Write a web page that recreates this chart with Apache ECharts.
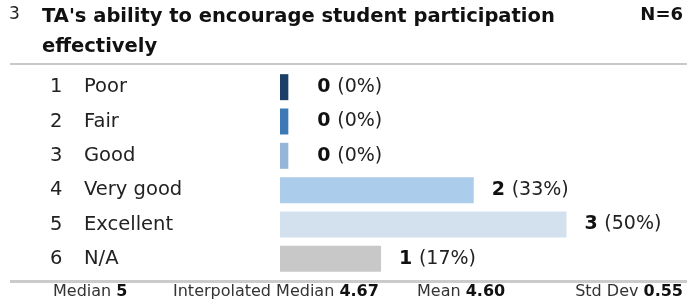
<!DOCTYPE HTML>
<html>
<head>
    <meta charset="utf-8">
    <title>TA participation</title>
    <script type="text/javascript" src="https://cdn.jsdelivr.net/npm/echarts@6/dist/echarts.min.js"></script>
</head>
<body style="padding:0px;margin:0px;background:#fff;">
    <div id="main" style="width:687px;height:304px;padding:0px;margin:0px;"></div>
    <script type="text/javascript">
        // data
        var codes = ['1', '2', '3', '4', '5', '6'];
        var answers = ['Poor', 'Fair', 'Good', 'Very good', 'Excellent', 'N/A'];
        var counts = [0, 0, 0, 2, 3, 1];
        var percents = ['0%', '0%', '0%', '33%', '50%', '17%'];
        var barColors = ['#1b3f69', '#3d79b5', '#94b7d9', '#abcdeb', '#d3e1ef', '#c8c8c8'];
        var stats = [['Median', '5'], ['Interpolated Median', '4.67'], ['Mean', '4.60'], ['Std Dev', '0.55']];

        var FONT = 'DejaVu Sans';
        var myChart = echarts.init(document.getElementById('main'));

        var barData = counts.map(function (v, i) {
            return {
                value: v,
                itemStyle: { color: barColors[i] },
                label: { distance: v === 0 ? 29 : 18 }
            };
        });

        // header, separators, footer
        var graphics = [
            { type: 'text', left: 9, top: 6, style: { text: '3', font: '17px ' + FONT, fill: '#222' } },
            { type: 'text', left: 42, top: 2, style: { text: "TA's ability to encourage student participation\neffectively", font: 'bold 19.5px ' + FONT, fill: '#111', lineHeight: 30 } },
            { type: 'text', right: 4, top: 6, style: { text: 'N=6', font: 'bold 18px ' + FONT, fill: '#111' } },
            { type: 'rect', shape: { x: 10, y: 63, width: 677, height: 2 }, style: { fill: '#c8c8c8' } },
            { type: 'rect', shape: { x: 10, y: 280, width: 677, height: 3 }, style: { fill: '#cbcbcb' } }
        ];
        var statPos = [{ left: 53 }, { left: 173 }, { left: 417 }, { right: 4 }];
        stats.forEach(function (s, i) {
            var g = {
                type: 'text', top: 284,
                style: {
                    text: '{n|' + s[0] + ' }{b|' + s[1] + '}',
                    rich: {
                        n: { font: '16px ' + FONT, fill: '#333' },
                        b: { font: 'bold 16px ' + FONT, fill: '#111' }
                    }
                }
            };
            echarts.util.extend(g, statPos[i]);
            graphics.push(g);
        });

        option = {
            animation: false,
            backgroundColor: '#fff',
            grid: { left: 280, top: 70, width: 410, height: 206 },
            xAxis: {
                type: 'value', min: -0.09, max: 4.3, startValue: -0.09,
                show: false
            },
            yAxis: {
                type: 'category', inverse: true,
                data: answers,
                axisLine: { show: false }, axisTick: { show: false },
                axisLabel: {
                    align: 'left', margin: 230,
                    formatter: function (val, idx) {
                        return '{n|' + codes[idx] + '}{l|' + val + '}';
                    },
                    rich: {
                        n: { width: 34, fontFamily: FONT, fontSize: 19.5, color: '#222' },
                        l: { fontFamily: FONT, fontSize: 19.5, color: '#222' }
                    }
                }
            },
            series: [{
                type: 'bar',
                barWidth: 26,
                data: barData,
                label: {
                    show: true, position: 'right',
                    formatter: function (p) {
                        return '{b|' + counts[p.dataIndex] + '}  {n|(' + percents[p.dataIndex] + ')}';
                    },
                    rich: {
                        b: { fontFamily: FONT, fontWeight: 'bold', fontSize: 19, color: '#111' },
                        n: { fontFamily: FONT, fontSize: 19, color: '#222' }
                    }
                }
            }],
            graphic: graphics
        };
        myChart.setOption(option);
    </script>
</body>
</html>
